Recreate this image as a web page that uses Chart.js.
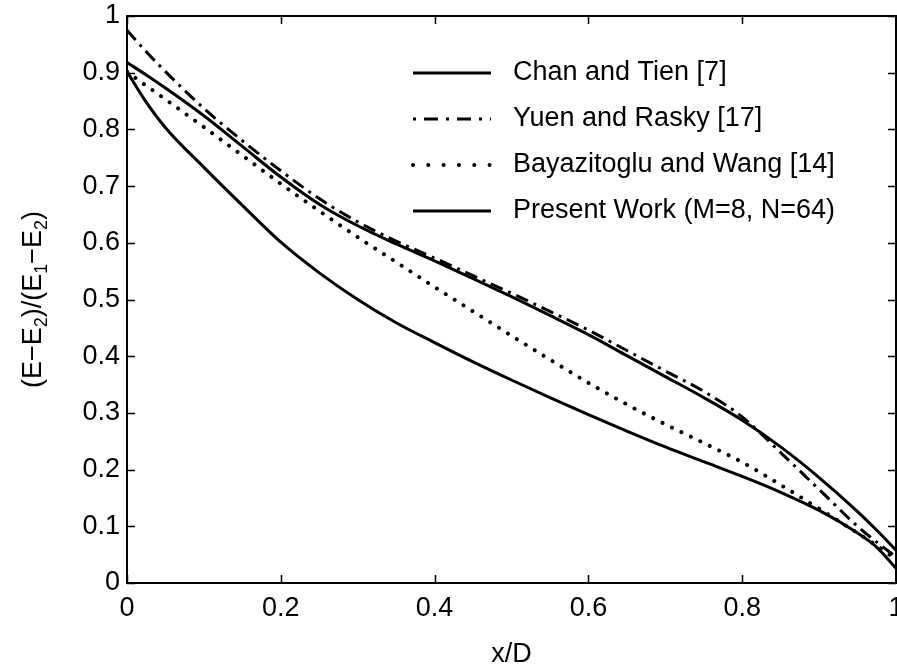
<!DOCTYPE html>
<html>
<head>
<meta charset="utf-8">
<script src="https://cdn.jsdelivr.net/npm/chart.js@4"></script>
<style>
  html, body { margin: 0; padding: 0; background: #fff; }
  #wrap { width: 897px; height: 666px; position: relative; }
</style>
</head>
<body>
<div id="wrap"><canvas id="chart"></canvas></div>
<script>
// x/D positions where the curves were read
var xD = [0, 0.025, 0.05, 0.1, 0.15, 0.2, 0.25, 0.3, 0.35, 0.4, 0.45, 0.5,
          0.55, 0.6, 0.65, 0.7, 0.75, 0.8, 0.85, 0.9, 0.95, 0.975, 1];

var chanTien = [0.918, 0.896, 0.873, 0.824, 0.770, 0.716, 0.668, 0.630, 0.598, 0.568, 0.537, 0.505,
                0.472, 0.438, 0.401, 0.364, 0.327, 0.287, 0.240, 0.186, 0.126, 0.093, 0.058];
var yuenRasky = [0.975, 0.937, 0.902, 0.837, 0.780, 0.727, 0.678, 0.637, 0.603, 0.573, 0.542, 0.511,
                 0.479, 0.446, 0.410, 0.374, 0.338, 0.293, 0.230, 0.165, 0.100, 0.072, 0.046];
var bayazWang = [0.902, 0.877, 0.853, 0.804, 0.754, 0.704, 0.656, 0.610, 0.566, 0.522, 0.479, 0.436,
                 0.394, 0.353, 0.315, 0.280, 0.247, 0.213, 0.173, 0.131, 0.088, 0.066, 0.042];
var presentWork = [0.902, 0.848, 0.803, 0.733, 0.666, 0.601, 0.547, 0.500, 0.459, 0.424, 0.390, 0.358,
                   0.327, 0.297, 0.268, 0.240, 0.214, 0.188, 0.160, 0.128, 0.088, 0.063, 0.026];

var xTicks = [0, 0.2, 0.4, 0.6, 0.8, 1];
var yTicks = [0, 0.1, 0.2, 0.3, 0.4, 0.5, 0.6, 0.7, 0.8, 0.9, 1];

var seriesNames = ["Chan and Tien [7]", "Yuen and Rasky [17]",
                   "Bayazitoglu and Wang [14]", "Present Work (M=8, N=64)"];

var FONT = "'Liberation Sans', Arial, Helvetica, sans-serif";

function pts(ys)
{
    return xD.map(function(x, i) { return {x: x, y: ys[i]}; });
}

function tickText(v)
{
    return String(Number(v.toFixed(1)));
}

var styles = [
    {dash: [], cap: "butt", width: 3, legendDash: []},
    {dash: [13, 6, 3, 6], cap: "butt", width: 3, legendDash: [3, 8, 14, 8]},
    {dash: [0.01, 10.5], cap: "round", width: 4, legendDash: [0.01, 15.3]},
    {dash: [], cap: "butt", width: 3, legendDash: []}
];
var seriesData = [chanTien, yuenRasky, bayazWang, presentWork];

var datasets = seriesData.map(function(ys, i)
{
    return {
        label: seriesNames[i],
        data: pts(ys),
        borderColor: "#000",
        borderWidth: styles[i].width,
        borderDash: styles[i].dash,
        borderCapStyle: styles[i].cap,
        cubicInterpolationMode: "monotone",
        pointRadius: 0,
        fill: false
    };
});

// box, inward ticks, legend and axis titles
var decor = {
    id: "decor",
    afterDraw: function(chart)
    {
        var ctx = chart.ctx;
        var a = chart.chartArea;
        var sx = chart.scales.x, sy = chart.scales.y;
        ctx.save();
        ctx.strokeStyle = "#000";
        ctx.lineWidth = 2;
        ctx.setLineDash([]);
        ctx.strokeRect(a.left, a.top, a.right - a.left, a.bottom - a.top);

        ctx.lineWidth = 1.5;
        ctx.beginPath();
        xTicks.forEach(function(v)
        {
            var p = Math.round(sx.getPixelForValue(v)) + 0.5;
            ctx.moveTo(p, a.bottom); ctx.lineTo(p, a.bottom - 8);
            ctx.moveTo(p, a.top); ctx.lineTo(p, a.top + 8);
        });
        yTicks.forEach(function(v)
        {
            var p = Math.round(sy.getPixelForValue(v)) + 0.5;
            ctx.moveTo(a.left, p); ctx.lineTo(a.left + 8, p);
            ctx.moveTo(a.right, p); ctx.lineTo(a.right - 8, p);
        });
        ctx.stroke();

        // legend
        var rowY = [73, 119, 165, 211];
        ctx.font = "27px " + FONT;
        ctx.fillStyle = "#000";
        ctx.textBaseline = "middle";
        ctx.textAlign = "left";
        seriesNames.forEach(function(name, i)
        {
            ctx.beginPath();
            ctx.lineWidth = styles[i].width;
            ctx.lineCap = styles[i].cap;
            ctx.setLineDash(styles[i].legendDash);
            ctx.moveTo(413, rowY[i]);
            ctx.lineTo(491, rowY[i]);
            ctx.stroke();
            ctx.setLineDash([]);
            ctx.fillText(name, 513, rowY[i]);
        });

        // x title
        ctx.textAlign = "center";
        ctx.fillText("x/D", (a.left + a.right) / 2, 655);

        // y title with subscripts
        var parts = [["(E\u2212E", false], ["2", true], [")/(E", false], ["1", true],
                     ["\u2212E", false], ["2", true], [")", false]];
        var big = "27px " + FONT, small = "18px " + FONT;
        var total = 0;
        parts.forEach(function(p)
        {
            ctx.font = p[1] ? small : big;
            total += ctx.measureText(p[0]).width;
        });
        ctx.translate(31, (a.top + a.bottom) / 2);
        ctx.rotate(-Math.PI / 2);
        ctx.textAlign = "left";
        ctx.textBaseline = "alphabetic";
        var cx = -total / 2;
        parts.forEach(function(p)
        {
            ctx.font = p[1] ? small : big;
            ctx.fillText(p[0], cx, p[1] ? 16 : 10);
            cx += ctx.measureText(p[0]).width;
        });
        ctx.restore();
    }
};

new Chart(document.getElementById("chart"), {
    type: "line",
    data: {datasets: datasets},
    options: {
        responsive: true,
        maintainAspectRatio: false,
        animation: false,
        layout: {autoPadding: false, padding: {top: 16, right: 1, left: 0, bottom: 0}},
        plugins: {legend: {display: false}, tooltip: {enabled: false}},
        scales: {
            x: {
                type: "linear",
                min: 0,
                max: 1,
                afterBuildTicks: function(s) { s.ticks = xTicks.map(function(v) { return {value: v}; }); },
                afterFit: function(s) { s.height = 83; s.paddingLeft = 0; s.paddingRight = 0; },
                grid: {display: false, drawTicks: false},
                border: {display: false},
                ticks: {
                    color: "#000",
                    padding: 9,
                    maxRotation: 0,
                    autoSkip: false,
                    font: {family: FONT, size: 27},
                    callback: function(v) { return tickText(v); }
                }
            },
            y: {
                type: "linear",
                min: 0,
                max: 1,
                afterBuildTicks: function(s) { s.ticks = yTicks.map(function(v) { return {value: v}; }); },
                afterFit: function(s) { s.width = 127; s.paddingTop = 0; s.paddingBottom = 0; },
                grid: {display: false, drawTicks: false},
                border: {display: false},
                ticks: {
                    color: "#000",
                    padding: 7,
                    autoSkip: false,
                    font: {family: FONT, size: 27},
                    callback: function(v) { return tickText(v); }
                }
            }
        }
    },
    plugins: [decor]
});
</script>
</body>
</html>
